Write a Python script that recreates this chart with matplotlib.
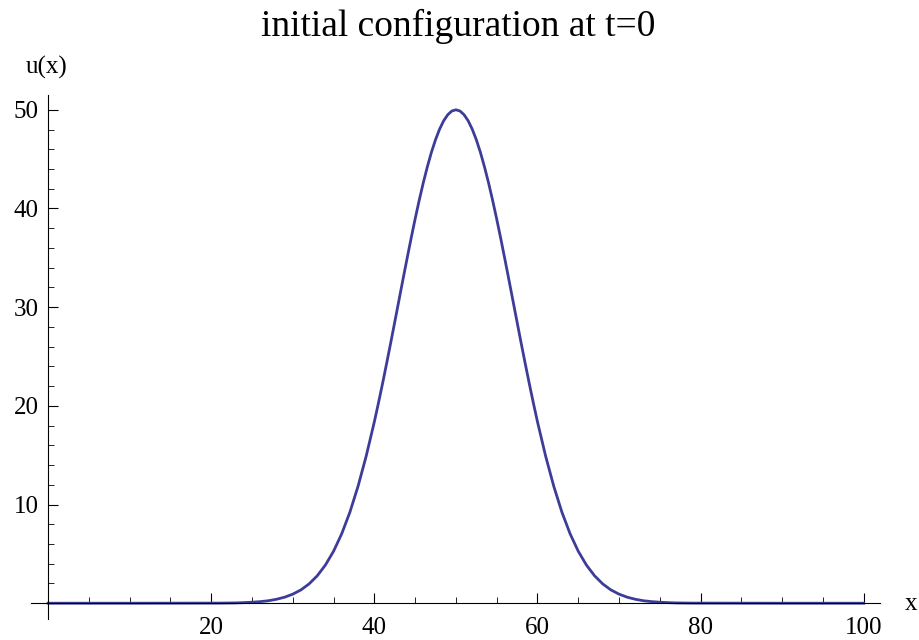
import matplotlib
matplotlib.use("Agg")
import matplotlib.pyplot as plt
from matplotlib.ticker import MultipleLocator, FixedLocator

# Data
x_vals = [0, 10, 20, 21, 22, 23, 24, 25, 26, 27, 28, 29,
          30, 31, 32, 33, 34, 35, 36, 37, 38, 39,
          40, 40.5, 41, 41.5, 42, 42.5, 43, 43.5, 44, 44.5,
          45, 45.5, 46, 46.5, 47, 47.5, 48, 48.5, 49, 49.5,
          50, 50.5, 51, 51.5, 52, 52.5, 53, 53.5, 54, 54.5,
          55, 55.5, 56, 56.5, 57, 57.5, 58, 58.5, 59, 59.5,
          60, 61, 62, 63, 64, 65, 66, 67, 68, 69,
          70, 71, 72, 73, 74, 75, 76, 77, 78, 79, 80, 90, 100]
u_vals = [0.0, 0.0, 0.01, 0.01, 0.02, 0.03, 0.06, 0.10, 0.16, 0.25, 0.40, 0.61,
          0.92, 1.35, 1.96, 2.78, 3.87, 5.27, 7.04, 9.22, 11.85, 14.91,
          18.39, 20.28, 22.24, 24.28, 26.36, 28.49, 30.63, 32.77, 34.88, 36.95,
          38.94, 40.83, 42.61, 44.23, 45.70, 46.97, 48.04, 48.89, 49.50, 49.88,
          50.00, 49.88, 49.50, 48.89, 48.04, 46.97, 45.70, 44.23, 42.61, 40.83,
          38.94, 36.95, 34.88, 32.77, 30.63, 28.49, 26.36, 24.28, 22.24, 20.28,
          18.39, 14.91, 11.85, 9.22, 7.04, 5.27, 3.87, 2.78, 1.96, 1.35,
          0.92, 0.61, 0.40, 0.25, 0.16, 0.10, 0.06, 0.03, 0.02, 0.01, 0.01, 0.0, 0.0]
x_ticks = [20, 40, 60, 80, 100]
y_ticks = [10, 20, 30, 40, 50]
title = "initial configuration at t=0"

plt.rcParams['font.family'] = ['Liberation Serif', 'DejaVu Serif']

fig = plt.figure(figsize=(9.19, 6.40), dpi=100)
ax = fig.add_axes([31/919, 21/640, (880-31)/919, (619-95)/640])
ax.plot(x_vals, u_vals, color='#3d3d99', lw=2.0, solid_joinstyle='round')
ax.set_xlim(-2.1, 102)
ax.set_ylim(-1.6, 51.5)

for s in ['top', 'right']:
    ax.spines[s].set_visible(False)
ax.spines['left'].set_position(('data', 0))
ax.spines['bottom'].set_position(('data', 0))
for s in ['left', 'bottom']:
    ax.spines[s].set_linewidth(0.8)

ax.xaxis.set_major_locator(FixedLocator(x_ticks))
ax.xaxis.set_minor_locator(MultipleLocator(5))
ax.yaxis.set_major_locator(FixedLocator(y_ticks))
ax.yaxis.set_minor_locator(MultipleLocator(2))
ax.tick_params(which='major', direction='in', length=7, width=0.8, labelsize=18)
ax.tick_params(axis='x', which='major', pad=10)
ax.tick_params(axis='y', which='major', pad=7)
ax.tick_params(which='minor', direction='in', length=4, width=0.6)

fig.text(911/919, 1 - 604/640, "x", fontsize=18, ha='center', va='center')
fig.text(47/919, 1 - 67/640, "u(x)", fontsize=18, ha='center', va='center')
fig.text(458/919, 1 - 26/640, title, fontsize=27, ha='center', va='center')

fig.savefig("out.png", dpi=100)
